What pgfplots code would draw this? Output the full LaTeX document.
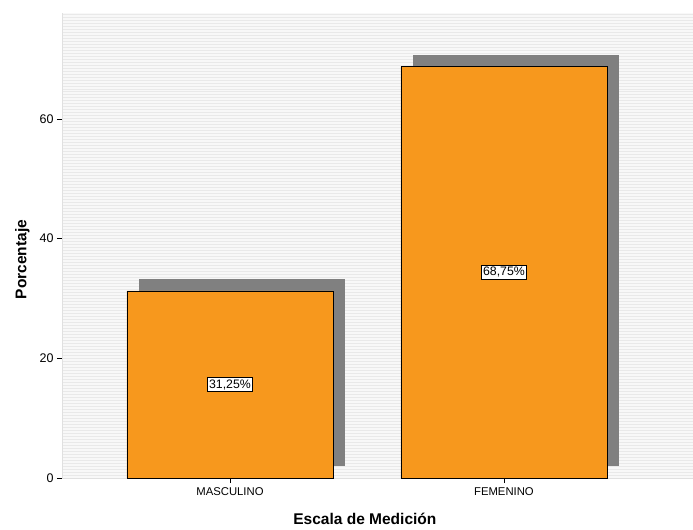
\documentclass[border=0pt]{standalone}
\usepackage{pgfplots}
\pgfplotsset{compat=1.18}
\usepackage{fontspec}
\setmainfont{Liberation Sans}
\definecolor{barorange}{HTML}{F7981D}
\definecolor{shadowgray}{HTML}{808080}
\definecolor{stripe}{HTML}{E9E9E9}
\definecolor{bgstripe}{HTML}{F8F8F8}
\begin{document}
\begin{tikzpicture}
\path[use as bounding box] (-62bp,-52bp) rectangle (631bp,478bp);
\begin{axis}[
  scale only axis,
  width=631bp, height=465bp,
  xmin=-0.613, xmax=1.69,
  ymin=0, ymax=77.7,
  axis lines=left,
  axis line style={draw=black!12, -},
  axis background/.style={fill=bgstripe},
  xtick={0,1},
  xticklabels={MASCULINO,FEMENINO},
  ytick={0,20,40,60},
  minor ytick={0,0.5,...,77.5},
  minor tick length=0pt,
  yminorgrids, ymajorgrids,
  minor grid style={draw=stripe, line width=1bp},
  major grid style={draw=stripe, line width=1bp},
  tick align=outside,
  major tick length=5bp,
  tick style={black, line width=0.7bp},
  /pgf/number format/assume math mode=true,
  yticklabel style={font=\fontsize{12.5bp}{14bp}\selectfont},
  xticklabel style={font=\fontsize{11.3bp}{13bp}\selectfont, yshift=-1bp},
  ylabel={\textbf{Porcentaje}},
  xlabel={\textbf{Escala de Medición}},
  label style={font=\fontsize{15.5bp}{18bp}\selectfont},
  ylabel style={at={(axis description cs:0,0.47)}, anchor=south, yshift=29bp},
  xlabel style={at={(axis description cs:0.48,0)}, anchor=north, yshift=-32bp},
  clip=false,
]
% shadows
\addplot[fill=shadowgray, draw=none] coordinates {(-0.332,2) (0.420,2) (0.420,33.25) (-0.332,33.25)} -- cycle;
\addplot[fill=shadowgray, draw=none] coordinates {(0.668,2) (1.420,2) (1.420,70.75) (0.668,70.75)} -- cycle;
% bars
\addplot[ybar, bar shift=0pt, bar width=0.752, fill=barorange, draw=black, line width=0.8bp]
  coordinates {(0,31.25) (1,68.75)};
% labels
\addplot[only marks, mark=none, point meta=explicit symbolic,
  nodes near coords,
  nodes near coords style={anchor=center, draw=black, fill=white, line width=0.7bp,
    inner sep=2bp, font=\fontsize{12.3bp}{14bp}\selectfont}]
  coordinates {(0,15.625) [31,25\%] (1,34.375) [68,75\%]};
\end{axis}
\end{tikzpicture}
\end{document}
